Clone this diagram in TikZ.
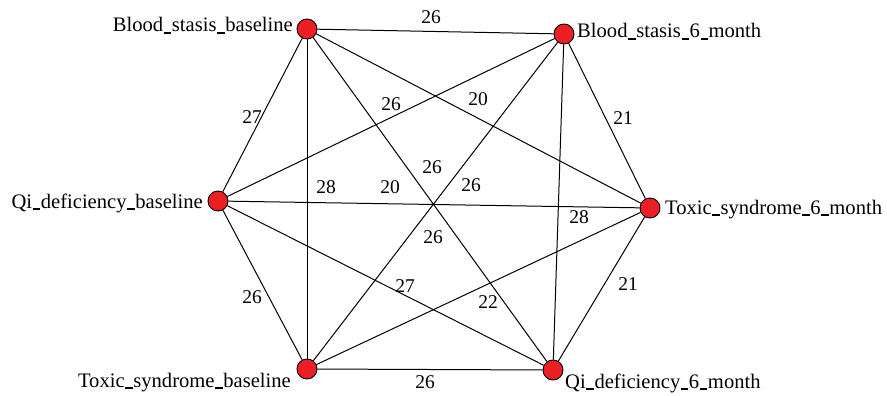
\documentclass[tikz,border=0pt]{standalone}
\usepackage{fontspec}
\setmainfont{Liberation Serif}
\newcommand\us{\kern0.6pt\rule[-1.6pt]{7.5pt}{1.4pt}\kern0.6pt}
\begin{document}
\begin{tikzpicture}[x=1pt,y=-1pt,
  vert/.style={circle,draw=black,line width=0.9pt,fill={rgb,255:red,236;green,32;blue,36},minimum size=20pt,inner sep=0pt},
  edge/.style={draw=black,line width=1pt},
  nlab/.style={font=\fontsize{20.6}{22}\selectfont,inner sep=0pt},
  elab/.style={font=\fontsize{19.5}{22}\selectfont,inner sep=0pt,anchor=center}]
\useasboundingbox (0,0) rectangle (887,396);
% vertices
\node[vert] (bsb) at (307,29) {};
\node[vert] (bs6) at (564,34) {};
\node[vert] (qdb) at (218,201) {};
\node[vert] (ts6) at (650,208) {};
\node[vert] (tsb) at (307,369) {};
\node[vert] (qd6) at (553,370) {};
% edges
\draw[edge] (bsb) -- (bs6);
\draw[edge] (bsb) -- (qdb);
\draw[edge] (bsb) -- (tsb);
\draw[edge] (bsb) -- (ts6);
\draw[edge] (bsb) -- (qd6);
\draw[edge] (bs6) -- (qdb);
\draw[edge] (bs6) -- (ts6);
\draw[edge] (bs6) -- (tsb);
\draw[edge] (bs6) -- (qd6);
\draw[edge] (qdb) -- (ts6);
\draw[edge] (qdb) -- (tsb);
\draw[edge] (qdb) -- (qd6);
\draw[edge] (ts6) -- (qd6);
\draw[edge] (ts6) -- (tsb);
\draw[edge] (tsb) -- (qd6);
% vertex names
\node[nlab,anchor=base east] (tbsb) at (293,32) {Blood\us stasis\us baseline};
\node[nlab,anchor=base west] (tbs6) at (577,38) {Blood\us stasis\us 6\us month};
\node[nlab,anchor=base east] (tqdb) at (203,208) {Qi\us deficiency\us baseline};
\node[nlab,anchor=base west] (tts6) at (665,214) {Toxic\us syndrome\us 6\us month};
\node[nlab,anchor=base east] (ttsb) at (291,387) {Toxic\us syndrome\us baseline};
\node[nlab,anchor=base west] (tqd6) at (565,388) {Qi\us deficiency\us 6\us month};
% edge weights
\node[elab] (w1) at (431,17) {26};
\node[elab] (w2) at (252,117) {27};
\node[elab] (w3) at (391,104) {26};
\node[elab] (w4) at (478,99) {20};
\node[elab] (w5) at (326,187) {28};
\node[elab] (w6) at (390,187) {20};
\node[elab] (w7) at (432,167) {26};
\node[elab] (w8) at (471,185) {26};
\node[elab] (w9) at (433,237) {26};
\node[elab] (w10) at (579,217) {28};
\node[elab] (w11) at (623,118) {21};
\node[elab] (w12) at (628,284) {21};
\node[elab] (w13) at (252,297) {26};
\node[elab] (w14) at (405,286) {27};
\node[elab] (w15) at (488,302) {22};
\node[elab] (w16) at (425,382) {26};
\end{tikzpicture}
\end{document}
